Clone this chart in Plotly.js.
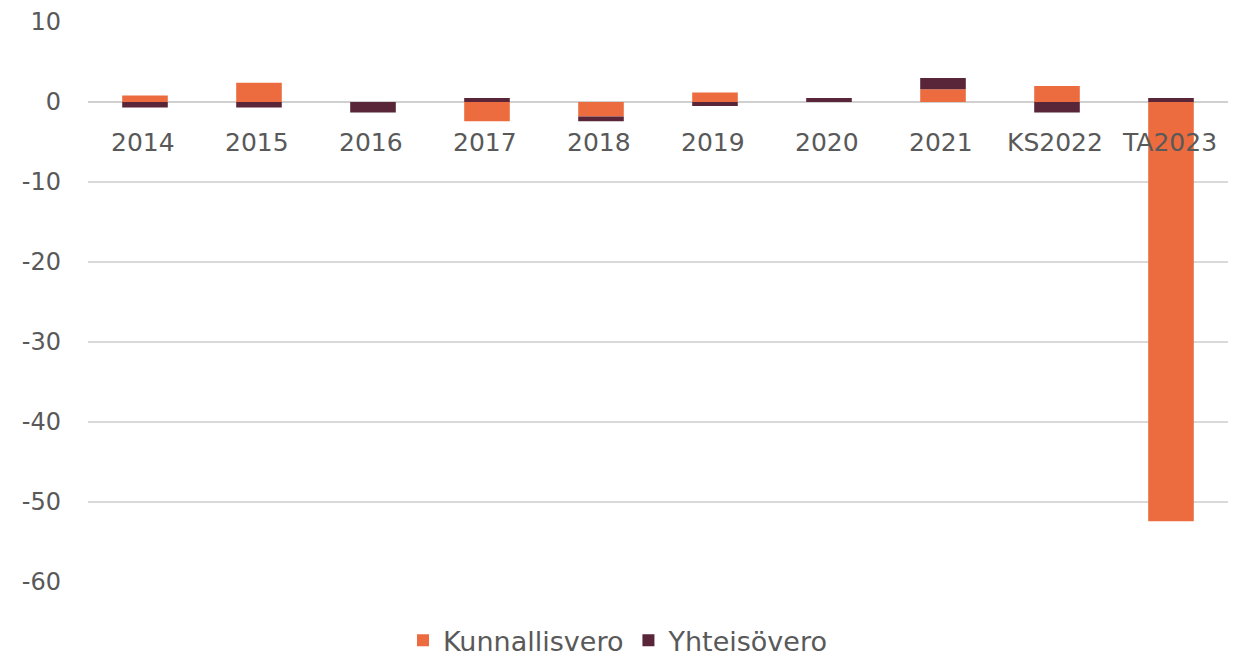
<!DOCTYPE html>
<html><head><meta charset="utf-8">
<script src="https://cdn.plot.ly/plotly-3.0.1.min.js"></script>
<style>html,body{margin:0;padding:0;background:#fff}#chart{width:1236px;height:664px}</style>
</head><body><div id="chart"></div>
<script>
const categories = ["2014","2015","2016","2017","2018","2019","2020","2021","KS2022","TA2023"];
const kunnallisvero = [0.8, 2.4, 0.0, -2.4, -1.8, 1.2, 0.0, 1.6, 2.0, -52.4];
const yhteisovero = [-0.7, -0.7, -1.3, 0.5, -0.6, -0.5, 0.5, 1.4, -1.3, 0.5];
const yTickVals = [10, 0, -10, -20, -30, -40, -50, -60];
const yTickText = ["10", "0", "-10", "-20", "-30", "-40", "-50", "-60"];

const font = {family: "'DejaVu Sans', sans-serif", color: "#595959"};
const traces = [
  {type: "bar", name: "Kunnallisvero", x: categories, y: kunnallisvero, marker: {color: "#EC6B3F"}},
  {type: "bar", name: "Yhteisövero", x: categories, y: yhteisovero, marker: {color: "#582539"}}
];
// category labels drawn just below the zero line (category index positions)
const annotations = categories.map((c, i) => ({
  x: i, y: 0, xref: "x", yref: "y", text: c, showarrow: false,
  yanchor: "top", yshift: -24, xshift: -2, font: Object.assign({size: 25}, font)
}));
const layout = {
  width: 1236, height: 664,
  margin: {l: 88, r: 8, t: 22, b: 82},
  barmode: "relative", bargap: 0.6,
  paper_bgcolor: "#fff", plot_bgcolor: "#fff",
  font: Object.assign({size: 24}, font),
  xaxis: {type: "category", range: [-0.5, categories.length - 0.5],
          showticklabels: false, showgrid: false, zeroline: false, showline: false, ticks: ""},
  yaxis: {range: [-60, 10], tickvals: yTickVals, ticktext: yTickText,
          showgrid: true, gridcolor: "#d9d9d9", gridwidth: 1.5,
          zeroline: true, zerolinecolor: "#d0d0d0", zerolinewidth: 2,
          tickfont: Object.assign({size: 24}, font), ticklen: 0, ticks: "", ticklabelstandoff: 26},
  legend: {orientation: "h", x: 0.5, xanchor: "center", xref: "container",
           y: 0.035, yanchor: "middle", yref: "container",
           font: Object.assign({size: 27}, font), itemwidth: 30, traceorder: "normal"},
  annotations: annotations,
  showlegend: true
};
Plotly.newPlot("chart", traces, layout, {displayModeBar: false, staticPlot: true});
</script></body></html>
